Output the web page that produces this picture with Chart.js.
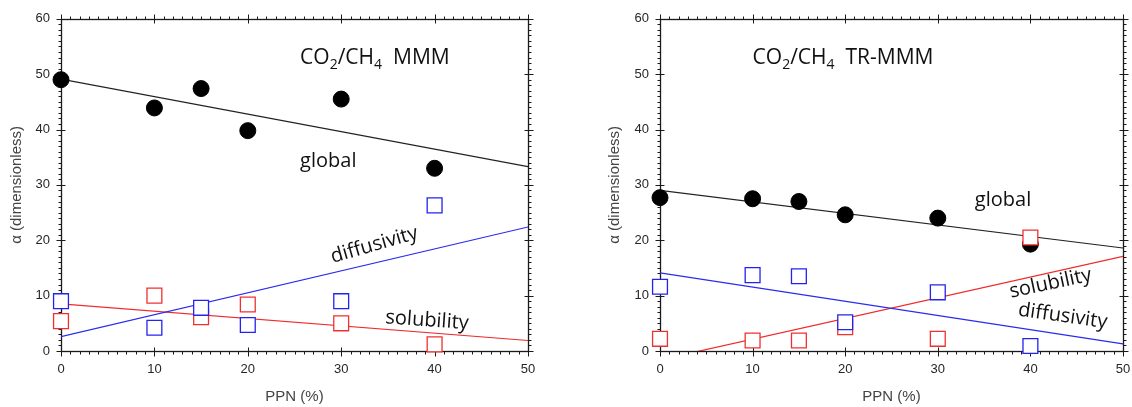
<!DOCTYPE html>
<html>
<head>
<meta charset="utf-8">
<script src="https://cdn.jsdelivr.net/npm/chart.js@4.4.0/dist/chart.umd.min.js"></script>
<style>
  html, body { margin: 0; padding: 0; background: #fff; }
  #wrap { position: relative; width: 1132px; height: 407px; overflow: hidden; }
  canvas { position: absolute; top: 0; }
</style>
</head>
<body>
<div id="wrap">
  <canvas id="c1" width="566" height="407" style="left:0px"></canvas>
  <canvas id="c2" width="590" height="407" style="left:566px"></canvas>
</div>
<script>
// ---- data ----
const ppn = [0, 10, 15, 20, 30, 40];
const fitX = [0, 50];

const mmmGlobal = [49.0, 43.9, 47.4, 39.8, 45.5, 33.0];
const mmmDiff   = [9.0, 4.2, 7.8, 4.7, 9.0, 26.3];
const mmmSol    = [5.4, 10.0, 6.1, 8.4, 5.0, 1.2];
const mmmGlobalFit = [49.1, 33.3];
const mmmDiffFit   = [2.6, 22.4];
const mmmSolFit    = [8.5, 1.9];

const trGlobal = [27.7, 27.5, 27.0, 24.6, 24.0, 19.3];
const trDiff   = [11.6, 13.7, 13.5, 5.2, 10.6, 0.9];
const trSol    = [2.2, 1.9, 1.9, 4.3, 2.2, 20.5];
const trGlobalFit = [29.0, 18.6];
const trDiffFit   = [14.1, 1.3];
const trSolFit    = [-1.6, 17.1];

const xTickValues = [0, 10, 20, 30, 40, 50];
const yTickValues = [0, 10, 20, 30, 40, 50, 60];

const xTitle = 'PPN (%)';
const yTitle = 'α (dimensionless)';

// ---- helpers ----
const pts = (xs, ys) => xs.map((x, i) => ({x: x, y: ys[i]}));

const framePlugin = {
  id: 'frame',
  beforeDatasetsDraw(chart) {
    const {ctx, chartArea: a, scales: {x, y}} = chart;
    ctx.save();
    ctx.strokeStyle = '#1a1a1a';
    ctx.lineWidth = 1.3;
    const L = Math.round(a.left) + 0.5, R = Math.round(a.right) + 0.5;
    const T = Math.round(a.top) + 0.5, B = Math.round(a.bottom) + 0.5;
    ctx.strokeRect(L, T, R - L, B - T);
    ctx.beginPath();
    ctx.lineWidth = 1;
    for (let v = x.min; v <= x.max; v += 1) {
      const px = Math.round(x.getPixelForValue(v)) + 0.5;
      const major = v % 10 === 0;
      ctx.moveTo(px, B + (major ? 5 : 3)); ctx.lineTo(px, major ? B - 4 : B);
      ctx.moveTo(px, T - (major ? 5 : 3)); ctx.lineTo(px, major ? T + 4 : T);
    }
    for (let v = y.min; v <= y.max; v += 1) {
      const py = Math.round(y.getPixelForValue(v)) + 0.5;
      const major = v % 10 === 0;
      ctx.moveTo(L - (major ? 5 : 3), py); ctx.lineTo(major ? L + 4 : L, py);
      ctx.moveTo(R + (major ? 5 : 3), py); ctx.lineTo(major ? R - 4 : R, py);
    }
    ctx.stroke();
    ctx.restore();
  }
};

const annotPlugin = {
  id: 'annot',
  afterDatasetsDraw(chart, args, opts) {
    const {ctx, scales: {x, y}} = chart;
    const family = '"Open Sans", sans-serif';
    (opts.items || []).forEach(it => {
      const size = it.size || 20;
      ctx.save();
      ctx.translate(x.getPixelForValue(it.x), y.getPixelForValue(it.y));
      ctx.rotate((it.angle || 0) * Math.PI / 180);
      ctx.fillStyle = '#111';
      ctx.textAlign = 'left';
      ctx.textBaseline = 'alphabetic';
      let cx = 0;
      it.parts.forEach(p => {
        if (typeof p === 'string') {
          ctx.font = size + 'px ' + family;
          ctx.fillText(p, cx, 0);
          cx += ctx.measureText(p).width;
        } else {
          ctx.font = Math.round(size * 0.65) + 'px ' + family;
          ctx.fillText(p.sub, cx, 5);
          cx += ctx.measureText(p.sub).width;
        }
      });
      ctx.restore();
    });
  }
};

function makeChart(id, d, yAxisWidth, padRight, yTitlePad, annots) {
  const sq = (data, color, order) => ({
    type: 'scatter', data: pts(ppn, data), order: order,
    pointStyle: 'rect', pointRadius: 10.5, pointHoverRadius: 10.5,
    pointBorderWidth: 1.3, borderColor: color, backgroundColor: '#fff',
    clip: false
  });
  const fit = (data, color, order) => ({
    type: 'line', data: pts(fitX, data), order: order,
    borderColor: color, borderWidth: 1.2, pointRadius: 0, fill: false
  });
  return new Chart(document.getElementById(id), {
    data: {
      datasets: [
        sq(d.diff, '#2323f0', 0),
        sq(d.sol, '#f03030', 1),
        { type: 'scatter', data: pts(ppn, d.global), order: 2,
          pointStyle: 'circle', pointRadius: 8, pointHoverRadius: 8,
          backgroundColor: '#000', borderColor: '#000', clip: false },
        fit(d.globalFit, '#222', 3),
        fit(d.diffFit, '#2a2af0', 4),
        fit(d.solFit, '#f02a2a', 5)
      ]
    },
    options: {
      responsive: false,
      animation: false,
      devicePixelRatio: 1,
      layout: { padding: { top: 15, right: padRight, left: 0, bottom: 0 } },
      plugins: {
        legend: { display: false },
        tooltip: { enabled: false },
        annot: { items: annots }
      },
      scales: {
        x: {
          type: 'linear', min: 0, max: 50,
          afterBuildTicks(s) { s.ticks = xTickValues.map(v => ({value: v})); },
          grid: { display: false, drawTicks: false },
          border: { display: false },
          ticks: { color: '#262626', padding: 11, font: { family: '"Liberation Sans", Arial', size: 13 } },
          title: { display: true, text: xTitle, color: '#444',
                   font: { family: '"Liberation Sans", Arial', size: 15 }, padding: { top: 0, bottom: 1 } },
          afterFit(s) { s.height = 56; s.paddingLeft = 0; s.paddingRight = 0; }
        },
        y: {
          type: 'linear', min: 0, max: 60,
          afterBuildTicks(s) { s.ticks = yTickValues.map(v => ({value: v})); },
          grid: { display: false, drawTicks: false },
          border: { display: false },
          ticks: { color: '#262626', padding: 11, font: { family: '"Liberation Sans", Arial', size: 13 } },
          title: { display: true, text: yTitle, color: '#444',
                   font: { family: '"Liberation Sans", Arial', size: 15 }, padding: { top: yTitlePad, bottom: 0 } },
          afterFit(s) { s.width = yAxisWidth; }
        }
      }
    },
    plugins: [framePlugin, annotPlugin]
  });
}

makeChart('c1', {
  global: mmmGlobal, diff: mmmDiff, sol: mmmSol,
  globalFit: mmmGlobalFit, diffFit: mmmDiffFit, solFit: mmmSolFit
}, 61, 38, 8, [
  { x: 25.6, y: 51.8, size: 21, parts: ['CO', {sub: '2'}, '/CH', {sub: '4'}, '  MMM'] },
  { x: 25.6, y: 33.2, parts: ['global'] },
  { x: 29.1, y: 15.9, angle: -16, parts: ['diffusivity'] },
  { x: 34.7, y: 5.0, angle: 4, parts: ['solubility'] }
]);

makeChart('c2', {
  global: trGlobal, diff: trDiff, sol: trSol,
  globalFit: trGlobalFit, diffFit: trDiffFit, solFit: trSolFit
}, 94, 33, 40, [
  { x: 10.0, y: 51.8, size: 21, parts: ['CO', {sub: '2'}, '/CH', {sub: '4'}, '  TR-MMM'] },
  { x: 34.0, y: 26.1, parts: ['global'] },
  { x: 37.9, y: 9.6, angle: -12, parts: ['solubility'] },
  { x: 38.6, y: 6.4, angle: 8, parts: ['diffusivity'] }
]);
</script>
</body>
</html>
